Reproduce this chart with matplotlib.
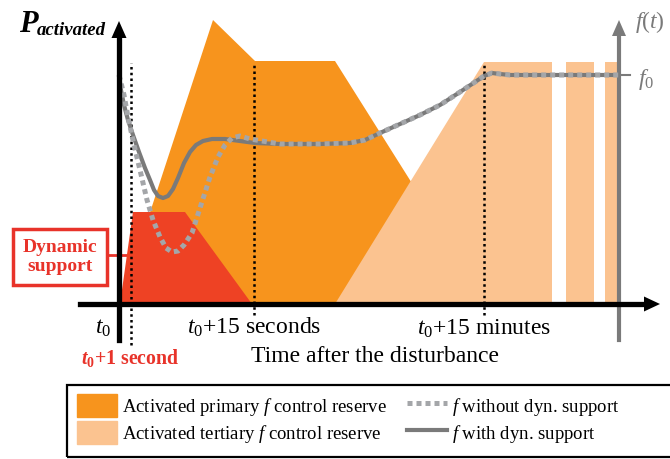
import matplotlib.pyplot as plt
import matplotlib.patches as mpatches
from matplotlib.lines import Line2D

plt.rcParams['font.family'] = ['Liberation Serif', 'DejaVu Serif']
plt.rcParams['mathtext.fontset'] = 'custom'
plt.rcParams['mathtext.rm'] = 'Liberation Serif'
plt.rcParams['mathtext.it'] = 'Liberation Serif:italic'
plt.rcParams['mathtext.bf'] = 'Liberation Serif:bold'
plt.rcParams['mathtext.bfit'] = 'Liberation Serif:bold:italic'

# schematic units: time after disturbance (x) and activated power / frequency (y)
primary_x = [1, 94, 136, 216, 369]
primary_y = [0, 284, 243, 243, 0]

dynamic_x = [1, 14, 66, 133]
dynamic_y = [0, 92, 92, 0]

tertiary_x = [216, 365, 433, 433]
tertiary_y = [0, 242, 242, 0]
tertiary_bars = [(447, 475), (486, 499)]
tertiary_top = 242

f_with_x = [0, 2, 5, 9, 14, 20, 26, 31, 35, 39, 44, 49, 54, 59, 65, 71, 77, 84, 93,
            106, 121, 136, 161, 201, 231, 246, 261, 281, 301, 321, 341, 356, 365,
            373, 381, 391, 500]
f_with_y = [229, 214, 199, 184, 169, 152, 136, 124, 114, 108, 106, 108, 115, 126, 141,
            152, 159, 163, 165, 165, 163, 161, 160, 160, 161, 164, 171, 180, 189, 199,
            212, 222, 228, 231, 230, 229, 229]

f_without_x = [0, 5, 9, 15, 21, 28, 34, 41, 47, 53, 59, 65, 73, 81, 91, 99, 106, 113,
               121, 131] + f_with_x[22:]
f_without_y = [229, 209, 187, 159, 134, 104, 84, 67, 56, 52, 53, 59, 71, 96, 127, 147,
               159, 166, 168, 165] + f_with_y[22:]

f0 = 229
t_marks = [12, 135, 365]
freq_axis_x = 500

c_primary = '#F7941D'
c_tertiary = '#FBC390'
c_dynamic = '#EE4224'
c_red = '#E8332A'
c_gray = '#7A7A7A'
c_dots = '#A4A6A9'

fig = plt.figure(figsize=(6.7, 4.59), dpi=100)
ax = fig.add_axes([0, 0, 1, 1])
ax.set_xlim(-119, 551)
ax.set_ylim(-155, 304)
ax.axis('off')

ax.fill(primary_x, primary_y, color=c_primary, lw=0, zorder=1)
ax.fill(tertiary_x, tertiary_y, color=c_tertiary, lw=0, zorder=2)
for a, b in tertiary_bars:
    ax.fill([a, a, b, b], [0, tertiary_top, tertiary_top, 0], color=c_tertiary, lw=0, zorder=2)
ax.fill(dynamic_x, dynamic_y, color=c_dynamic, lw=0, zorder=3)

# dotted time markers
ax.plot([t_marks[0], t_marks[0]], [-41, 241], color='k', lw=1.8, ls=(0, (1, 1.3)), zorder=4)
for t in t_marks[1:]:
    ax.plot([t, t], [-11, 241], color='k', lw=1.8, ls=(0, (1, 1.3)), zorder=4)

# frequency axis
ax.plot([freq_axis_x, freq_axis_x], [-36, 270], color=c_gray, lw=3, zorder=5)
ax.fill([freq_axis_x - 7, freq_axis_x + 7, freq_axis_x], [268, 268, 284], color=c_gray, lw=0, zorder=5)
ax.plot([493, 511], [f0, f0], color=c_gray, lw=1.5, zorder=5)

# frequency curves
ax.plot(f_with_x, f_with_y, color=c_gray, lw=3, solid_capstyle='round', zorder=6)
ax.plot(f_without_x, f_without_y, color=c_dots, lw=3.6, ls=(0, (1, 0.8)),
        dash_capstyle='butt', zorder=7)

# power and time axes
ax.plot([0, 0], [-36, 268], color='k', lw=3.8, zorder=8)
ax.fill([-7.5, 7.5, 0], [266, 266, 283], color='k', lw=0, zorder=8)
ax.plot([-39, 527], [0, 0], color='k', lw=3.8, zorder=8)
ax.fill([525, 525, 541], [-7.5, 7.5, 0], color='k', lw=0, zorder=8)

# labels
ax.text(-100, 272, 'P', fontsize=22, fontweight='bold', fontstyle='italic', ha='left', va='baseline')
ax.text(-82, 269, 'activated', fontsize=13.5, fontweight='bold', fontstyle='italic',
        ha='left', va='baseline')
ax.text(516, 282, r'$f(t)$', fontsize=17, color=c_gray, ha='left', va='center')
ax.text(519, f0 - 4, r'$f_0$', fontsize=17, color=c_gray, ha='left', va='center')

ax.text(-16, -24, r'$t_0$', fontsize=17, ha='center', va='center')
ax.text(t_marks[1], -23, r'$t_0$+15 seconds', fontsize=17, ha='center', va='center')
ax.text(t_marks[2], -25, r'$t_0$+15 minutes', fontsize=17, ha='center', va='center')
ax.text(11, -54, r'$\mathbfit{t}_{\mathbf{0}}$+1 second', fontsize=14.3, fontweight='bold',
        color=c_red, ha='center', va='center')
ax.text(256, -53, 'Time after the disturbance', fontsize=17, ha='center', va='center')

ax.plot([-12, 8], [49, 49], color=c_red, lw=2, zorder=2.5)
ax.text(-59, 47, 'Dynamic\nsupport', fontsize=14, fontweight='bold', color=c_red,
        ha='center', va='center', linespacing=1.15,
        bbox=dict(boxstyle='square,pad=0.52', fc='white', ec=c_red, lw=2.5))

handles = [mpatches.Patch(color=c_primary), mpatches.Patch(color=c_tertiary),
           Line2D([], [], color=c_dots, lw=3.6, ls=(0, (1, 0.8))),
           Line2D([], [], color=c_gray, lw=3)]
labels = ['Activated primary $f$ control reserve', 'Activated tertiary $f$ control reserve',
          '$f$ without dyn. support', '$f$ with dyn. support']
ax.legend(handles, labels, ncol=2, frameon=False, fontsize=13.5, loc='upper left',
          bbox_to_anchor=(77 / 670, 1 - 394 / 459), bbox_transform=fig.transFigure,
          borderpad=0, borderaxespad=0, handlelength=2.13, handleheight=1.5,
          handletextpad=0.25, labelspacing=0.2, columnspacing=1.1)
fig.patches.append(mpatches.Rectangle((67 / 670, 2 / 459), 0.95, 72 / 459, fill=False,
                                      ec='k', lw=1.6, transform=fig.transFigure))

fig.savefig('out.png', dpi=100)
